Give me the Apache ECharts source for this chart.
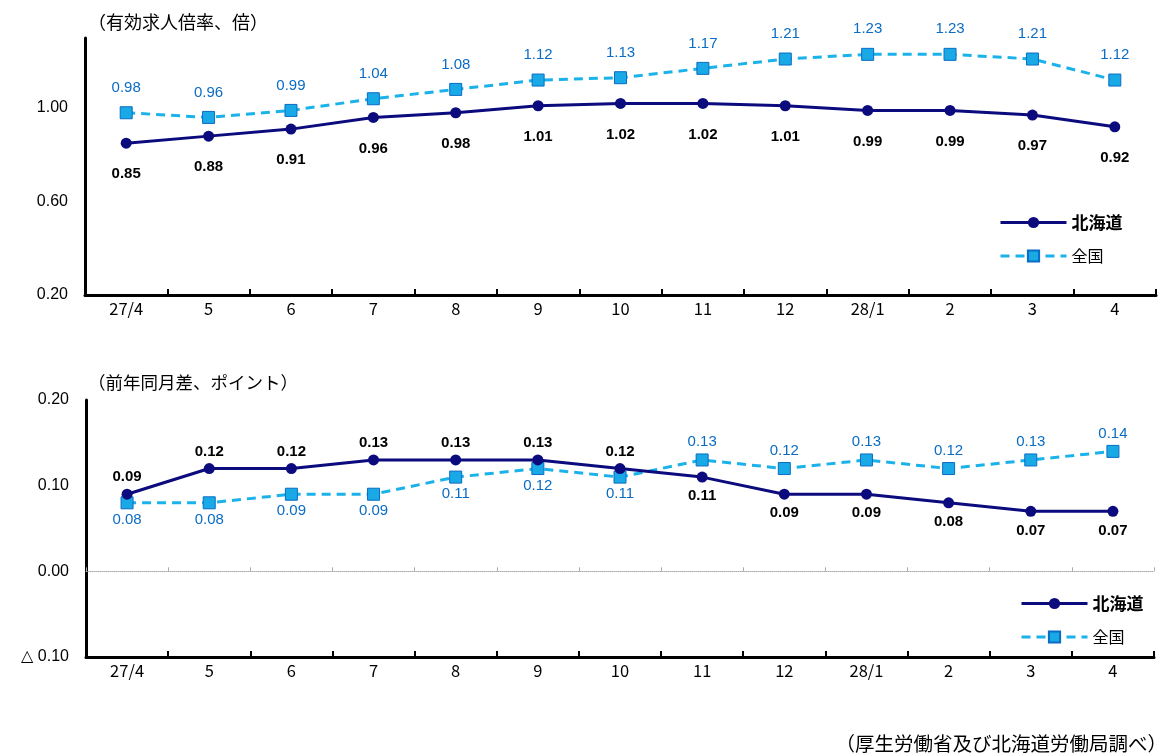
<!DOCTYPE html>
<html><head><meta charset="utf-8">
<script src="https://cdn.jsdelivr.net/npm/echarts@6/dist/echarts.min.js"></script>
<style>html,body{margin:0;padding:0;background:#fff}#c{width:1170px;height:753px}</style>
</head><body><div id="c"></div>
<script>
const categories = ['27/4','5','6','7','8','9','10','11','12','28/1','2','3','4'];
const ratioHokkaido = [0.85,0.88,0.91,0.96,0.98,1.01,1.02,1.02,1.01,0.99,0.99,0.97,0.92];
const ratioNational = [0.98,0.96,0.99,1.04,1.08,1.12,1.13,1.17,1.21,1.23,1.23,1.21,1.12];
const diffHokkaido = [0.09,0.12,0.12,0.13,0.13,0.13,0.12,0.11,0.09,0.09,0.08,0.07,0.07];
const diffNational = [0.08,0.08,0.09,0.09,0.11,0.12,0.11,0.13,0.12,0.13,0.12,0.13,0.14];
const topTitle = '（有効求人倍率、倍）';
const bottomTitle = '（前年同月差、ポイント）';
const sourceText = '（厚生労働省及び北海道労働局調べ）';

const JP = '"Noto Sans CJK JP", sans-serif';
const NUM = '"Liberation Sans", Arial, sans-serif';
const NAVY = '#0B0B7E';
const LBLUE = '#1BB2EA';
const DBLUE = '#0A6CC4';

const chart = echarts.init(document.getElementById('c'), null, {renderer:'canvas'});

function mainX(grid){
  return {
    type:'category', gridIndex:grid, data:categories, position:'bottom',
    boundaryGap:true,
    axisLine:{onZero:false, lineStyle:{color:'#000', width:3}},
    axisTick:{show:true, inside:true, length:6, lineStyle:{color:'#000', width:2}},
    axisLabel:{color:'#000', fontFamily:JP, fontSize:16.5, margin:5},
    splitLine:{show:false}
  };
}
function hkSeries(name, data, xi, yi, posFn, dist){
  return {
    name:name, type:'line', xAxisIndex:xi, yAxisIndex:yi,
    symbol:'circle', symbolSize:11,
    lineStyle:{color:NAVY, width:3},
    itemStyle:{color:NAVY},
    data:data.map((v,i)=>({value:v, label:{position:posFn(i), distance:dist(i)}})),
    label:{show:true, color:'#000', fontFamily:NUM, fontWeight:'bold', fontSize:15,
      formatter:p=>p.value.toFixed(2)},
    z:3, animation:false
  };
}
function natSeries(name, data, xi, yi, posFn, dist){
  return {
    name:name, type:'line', xAxisIndex:xi, yAxisIndex:yi,
    symbol:'rect', symbolSize:12,
    lineStyle:{color:LBLUE, width:3, type:[9,6]},
    itemStyle:{color:'#19A9E6', borderColor:DBLUE, borderWidth:1},
    data:data.map((v,i)=>({value:v, label:{position:posFn(i), distance:dist(i)}})),
    label:{show:true, color:DBLUE, fontFamily:NUM, fontSize:15,
      formatter:p=>p.value.toFixed(2)},
    z:2, animation:false
  };
}
const legendFmt = n => n === '北海道' ? '{b|' + n + '}' : '{n|' + n + '}';
const legendRich = {
  b:{fontFamily:JP, fontWeight:'bold', fontSize:17, color:'#000'},
  n:{fontFamily:JP, fontSize:16, color:'#000'}
};
function legendAt(left, top){
  return {orient:'vertical', left:left, top:top, itemWidth:66, itemHeight:14, itemGap:17,
    data:['北海道','全国'], formatter:legendFmt, textStyle:{rich:legendRich}, selectedMode:false,
    lineStyle:{width:3}};
}

const option = {
  backgroundColor:'#fff',
  animation:false,
  title:[
    {text:topTitle, left:83, top:8, textStyle:{fontFamily:JP, fontSize:18, fontWeight:'normal', color:'#000'}},
    {text:bottomTitle, left:83, top:369, textStyle:{fontFamily:JP, fontSize:17.5, fontWeight:'normal', color:'#000'}},
    {text:sourceText, right:-2, top:729, textStyle:{fontFamily:JP, fontSize:19.5, fontWeight:'normal', color:'#000'}}
  ],
  legend:[ legendAt(994, 209), legendAt(1015, 590) ],
  grid:[
    {left:85, right:14, top:38, height:257, containLabel:false},
    {left:86, right:16, top:400, height:257, containLabel:false}
  ],
  xAxis:[
    mainX(0),
    mainX(1),
    {type:'category', gridIndex:1, data:categories, position:'bottom', boundaryGap:true,
     axisLine:{onZero:true, lineStyle:{color:'#aaa', width:1, type:'dotted'}},
     axisTick:{show:true, inside:true, length:4, lineStyle:{color:'#aaa', width:1}},
     axisLabel:{show:false}, splitLine:{show:false}, z:1}
  ],
  yAxis:[
    {type:'value', gridIndex:0, min:0.2, max:1.3, interval:0.4,
     axisLine:{show:true, lineStyle:{color:'#000', width:3}},
     axisTick:{show:false}, splitLine:{show:false},
     axisLabel:{color:'#000', fontFamily:NUM, fontSize:16, margin:17, showMaxLabel:false,
       formatter:v=>Math.abs(v-1.3)<1e-6 ? '' : v.toFixed(2)}},
    {type:'value', gridIndex:1, min:-0.1, max:0.2, interval:0.1,
     axisLine:{show:true, lineStyle:{color:'#000', width:3}},
     axisTick:{show:false}, splitLine:{show:false},
     axisLabel:{color:'#000', fontFamily:NUM, fontSize:16, margin:17,
       formatter:v=>v < -1e-9 ? '△ ' + Math.abs(v).toFixed(2) : v.toFixed(2)}}
  ],
  series:[
    hkSeries('北海道', ratioHokkaido, 0, 0, i=>'bottom', i=>18),
    natSeries('全国', ratioNational, 0, 0, i=>'top', i=>11),
    hkSeries('北海道', diffHokkaido, 1, 1, i=> i<7 ? 'top' : 'bottom', i=> i<7 ? 4 : 6),
    natSeries('全国', diffNational, 1, 1, i=> i<7 ? 'bottom' : 'top', i=> i<7 ? 3 : 4)
  ]
};
chart.setOption(option);
</script></body></html>
